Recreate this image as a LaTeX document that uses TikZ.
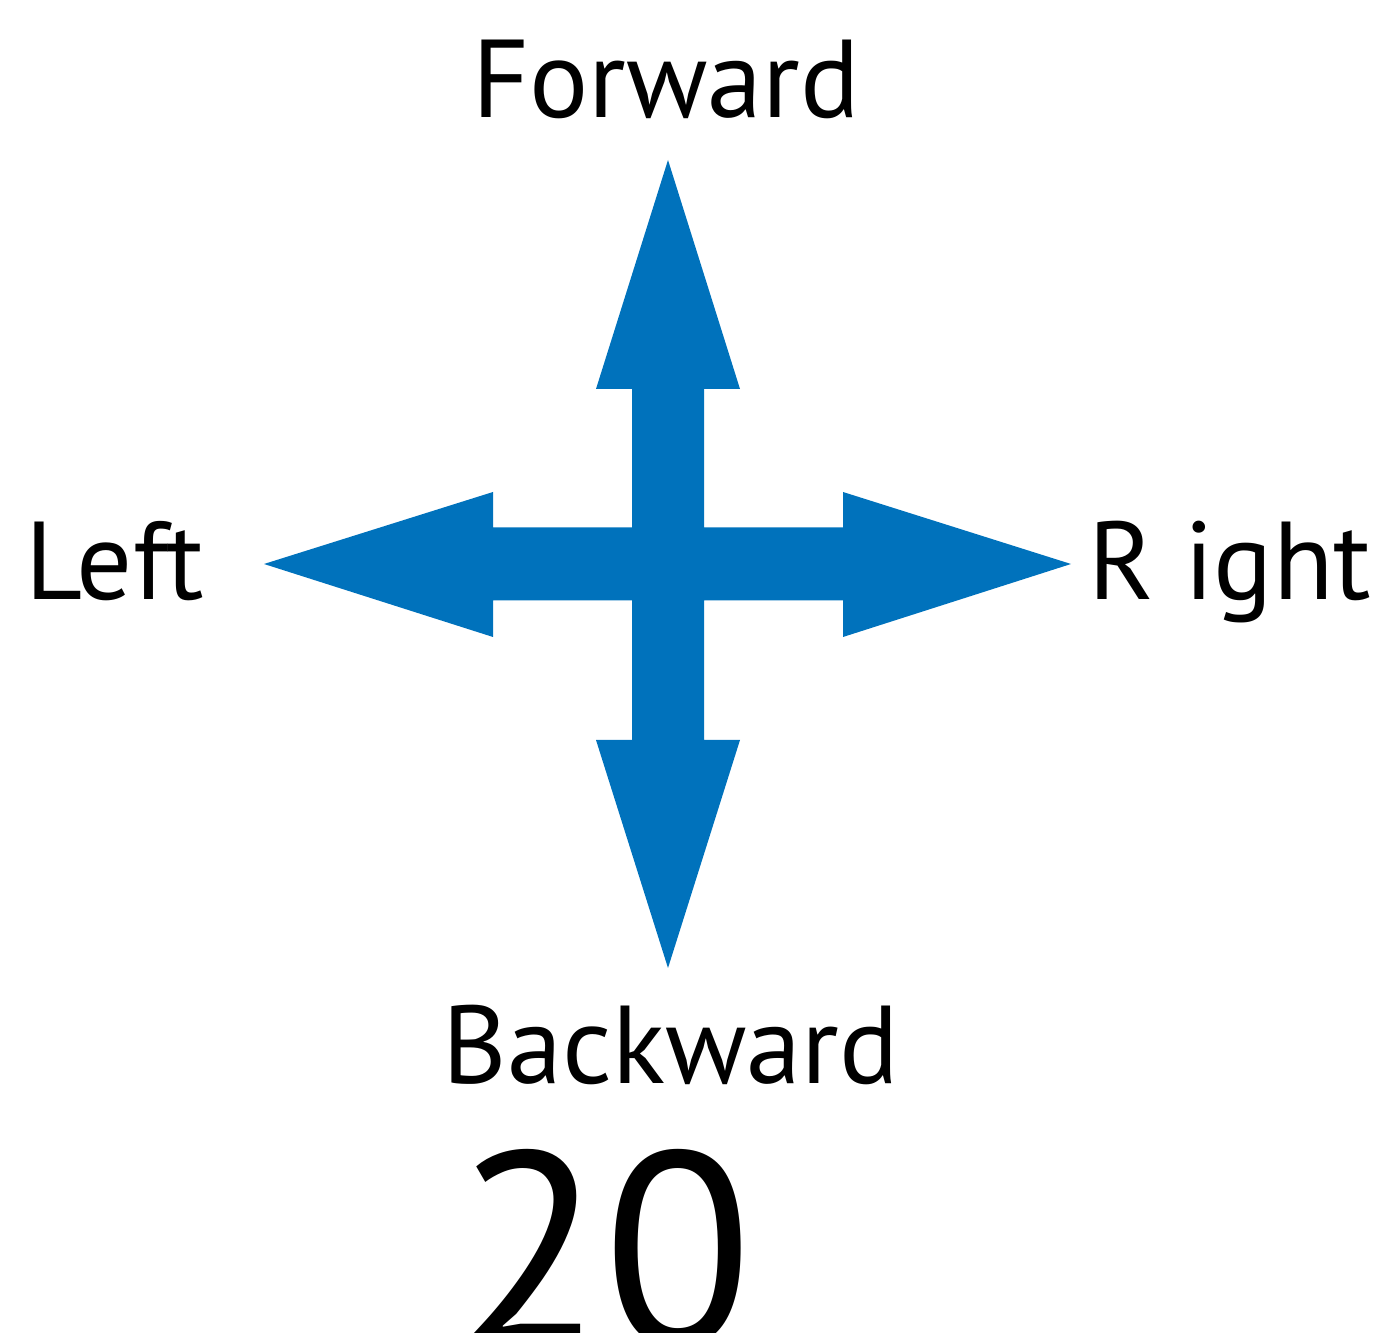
\documentclass[tikz,border=0pt]{standalone}
\usepackage{fontspec}
\setmainfont{PT Sans}
\definecolor{arrowblue}{HTML}{0072BC}
\tikzset{
  lbl/.style={inner sep=0pt, font=\fontsize{31.5}{36}\selectfont},
  bignum/.style={inner sep=0pt, font=\fontsize{78}{84}\selectfont}
}
\begin{document}
\begin{tikzpicture}
      \useasboundingbox (0,0) rectangle (13.82,13.33);
      \coordinate (c) at (6.68, 7.69);

      % four-way arrow
      \fill[arrowblue, shift={(c)}]
        (0,4.04) -- (0.72,1.75) -- (0.36,1.75) -- (0.36,0.365) --
        (1.75,0.365) -- (1.75,0.72) -- (4.03,0) -- (1.75,-0.73) --
        (1.75,-0.365) -- (0.36,-0.365) -- (0.36,-1.76) -- (0.72,-1.76) --
        (0,-4.04) -- (-0.72,-1.76) -- (-0.36,-1.76) -- (-0.36,-0.365) --
        (-1.75,-0.365) -- (-1.75,-0.73) -- (-4.04,0) -- (-1.75,0.72) --
        (-1.75,0.365) -- (-0.36,0.365) -- (-0.36,1.75) -- (-0.72,1.75) -- cycle;

      \node[lbl, anchor=base] (fwd) at (6.66, 12.15){Forward};
      \node[lbl, anchor=base] (lft) at (1.15, 7.33){Left};
      \node[lbl, anchor=base east] (rgt) at (13.72, 7.33){R ight};
      \node[lbl, anchor=base] (bwd) at (6.71, 2.49){Backward};
      \node[bignum, anchor=base] (num) at (6.035, -0.12){20};
\end{tikzpicture}
\end{document}
